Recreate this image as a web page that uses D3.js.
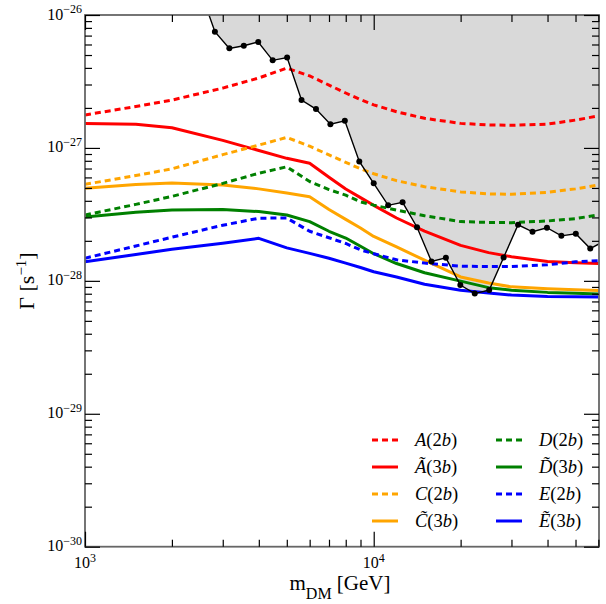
<!DOCTYPE html>
<html>
<head>
<meta charset="utf-8">
<script src="https://cdn.jsdelivr.net/npm/d3@7"></script>
<style>
body { margin: 0; background: #fff; }
text { font-family: "Liberation Serif", "DejaVu Serif", serif; fill: #000; }
</style>
</head>
<body>
<div id="chart"></div>
<script>
// dark matter mass grid (GeV) shared by the model curves
var masses = [1000, 1500, 2000, 3000, 4000, 5000, 6000, 7000, 8000, 9000, 10000,
	12000, 15000, 20000, 25000, 30000, 40000, 50000, 60000];

// decay rates Gamma [1/s]
var gammaA2b = [1.77e-27, 2.05e-27, 2.29e-27, 2.82e-27, 3.36e-27, 3.99e-27, 3.48e-27, 2.97e-27, 2.59e-27, 2.31e-27,
	2.11e-27, 1.87e-27, 1.67e-27, 1.53e-27, 1.49e-27, 1.48e-27, 1.51e-27, 1.62e-27, 1.74e-27];
var gammaA3b = [1.53e-27, 1.51e-27, 1.42e-27, 1.14e-27, 9.56e-28, 8.35e-28, 7.66e-28, 6.01e-28, 4.91e-28, 4.23e-28,
	3.70e-28, 2.97e-28, 2.37e-28, 1.85e-28, 1.63e-28, 1.52e-28, 1.40e-28, 1.37e-28, 1.35e-28];
var gammaC2b = [5.32e-28, 6.20e-28, 6.96e-28, 8.90e-28, 1.05e-27, 1.20e-27, 1.03e-27, 8.86e-28, 7.79e-28, 6.96e-28,
	6.39e-28, 5.67e-28, 5.11e-28, 4.67e-28, 4.51e-28, 4.48e-28, 4.63e-28, 4.92e-28, 5.26e-28];
var gammaC3b = [4.97e-28, 5.30e-28, 5.45e-28, 5.27e-28, 4.92e-28, 4.58e-28, 4.29e-28, 3.44e-28, 2.90e-28, 2.50e-28,
	2.16e-28, 1.80e-28, 1.43e-28, 1.07e-28, 9.62e-29, 9.01e-29, 8.71e-29, 8.56e-29, 8.45e-29];
var gammaD2b = [3.13e-28, 3.76e-28, 4.32e-28, 5.41e-28, 6.45e-28, 7.21e-28, 5.59e-28, 4.86e-28, 4.41e-28, 3.93e-28,
	3.71e-28, 3.41e-28, 3.09e-28, 2.79e-28, 2.75e-28, 2.74e-28, 2.82e-28, 2.94e-28, 3.13e-28];
var gammaD3b = [3.02e-28, 3.28e-28, 3.41e-28, 3.44e-28, 3.32e-28, 3.13e-28, 2.79e-28, 2.36e-28, 2.10e-28, 1.82e-28,
	1.60e-28, 1.35e-28, 1.15e-28, 9.95e-29, 8.89e-29, 8.50e-29, 8.19e-29, 8.05e-29, 7.96e-29];
var gammaE2b = [1.48e-28, 1.83e-28, 2.13e-28, 2.62e-28, 2.96e-28, 2.97e-28, 2.36e-28, 2.11e-28, 1.91e-28, 1.71e-28,
	1.60e-28, 1.44e-28, 1.36e-28, 1.29e-28, 1.28e-28, 1.28e-28, 1.32e-28, 1.39e-28, 1.42e-28];
var gammaE3b = [1.39e-28, 1.58e-28, 1.73e-28, 1.92e-28, 2.09e-28, 1.77e-28, 1.61e-28, 1.48e-28, 1.36e-28, 1.26e-28,
	1.17e-28, 1.07e-28, 9.43e-29, 8.51e-29, 8.10e-29, 7.82e-29, 7.62e-29, 7.58e-29, 7.55e-29];

// experimental limit (black dots), region above is excluded
var limitMass = [2512, 2818, 3162, 3548, 3981, 4467, 5012, 5623, 6310, 7079, 7943, 8913, 10000, 11220, 12589,
	14125, 15849, 17783, 19953, 22387, 25119, 28184, 31623, 35481, 39811, 44668, 50119, 56234, 63096];
var limitGamma = [1.52e-26, 7.48e-27, 5.61e-27, 5.87e-27, 6.27e-27, 4.56e-27, 4.78e-27, 2.29e-27, 1.96e-27, 1.51e-27,
	1.60e-27, 7.92e-28, 5.42e-28, 3.70e-28, 3.90e-28, 2.53e-28, 1.40e-28, 1.49e-28, 9.29e-29, 8.02e-29,
	8.53e-29, 1.50e-28, 2.64e-28, 2.34e-28, 2.51e-28, 2.18e-28, 2.26e-28, 1.75e-28, 2.00e-28];

// legend names and b multiplicity
var modelNames = ["A", "\u00C3", "C", "C\u0303", "D", "D\u0303", "E", "\u1EBC"];
var modelBs = ["2", "3", "2", "3", "2", "3", "2", "3"];

var xMajor = [1e3, 1e4],
	xMinor = [2e3, 3e3, 4e3, 5e3, 6e3, 7e3, 8e3, 9e3, 2e4, 3e4, 4e4, 5e4, 6e4],
	yMajor = [1e-30, 1e-29, 1e-28, 1e-27, 1e-26],
	yMinor = (function(){
		var t = [];
		for (var e = -30; e < -26; e++) {
			for (var k = 2; k < 10; k++) t.push(+(k + "e" + e));
		}
		return t;
	}());

var width = 606,
	height = 604,
	margin = {top: 15, right: 7, bottom: 57.3, left: 85},
	pLeft = margin.left,
	pRight = width - margin.right,
	pTop = margin.top,
	pBottom = height - margin.bottom;

var x = d3.scaleLog().domain([1e3, 6.03e4]).range([pLeft, pRight]);
var y = d3.scaleLog().domain([1e-30, 1e-26]).range([pBottom, pTop]);

var series = [
	{values: gammaA2b, color: "#ff0000", dotted: true},
	{values: gammaA3b, color: "#ff0000", dotted: false},
	{values: gammaC2b, color: "#ffa500", dotted: true},
	{values: gammaC3b, color: "#ffa500", dotted: false},
	{values: gammaD2b, color: "#008000", dotted: true},
	{values: gammaD3b, color: "#008000", dotted: false},
	{values: gammaE2b, color: "#0000ff", dotted: true},
	{values: gammaE3b, color: "#0000ff", dotted: false}
];

var svg = d3.select("#chart")
	.append("svg")
	.attr("width", width)
	.attr("height", height);

svg.append("clipPath")
	.attr("id", "plot")
	.append("rect")
	.attr("x", pLeft)
	.attr("y", pTop)
	.attr("width", pRight - pLeft)
	.attr("height", pBottom - pTop);

var plot = svg.append("g").attr("clip-path", "url(#plot)");

var limit = limitMass.map(function(m, i){ return {m: m, g: limitGamma[i]}; });

// excluded region
plot.append("path")
	.datum(limit)
	.attr("fill", "#d9d9d9")
	.attr("d", d3.area()
		.x(function(d){ return x(d.m); })
		.y0(pTop - 50)
		.y1(function(d){ return y(d.g); }));

// model curves
var line = d3.line()
	.x(function(d){ return x(d.m); })
	.y(function(d){ return y(d.g); });

series.forEach(function(s){
	plot.append("path")
		.datum(masses.map(function(m, i){ return {m: m, g: s.values[i]}; }))
		.attr("fill", "none")
		.attr("stroke", s.color)
		.attr("stroke-width", 3)
		.attr("stroke-linejoin", "round")
		.attr("stroke-dasharray", s.dotted ? "6,4" : null)
		.attr("d", line);
});

// limit line and dots
plot.append("path")
	.datum(limit)
	.attr("fill", "none")
	.attr("stroke", "#000")
	.attr("stroke-width", 1.4)
	.attr("d", line);

plot.selectAll("circle")
	.data(limit)
	.enter()
	.append("circle")
	.attr("cx", function(d){ return x(d.m); })
	.attr("cy", function(d){ return y(d.g); })
	.attr("r", 3)
	.attr("fill", "#000");

// frame
svg.append("rect")
	.attr("x", pLeft)
	.attr("y", pTop)
	.attr("width", pRight - pLeft)
	.attr("height", pBottom - pTop)
	.attr("fill", "none")
	.attr("stroke", "#666")
	.attr("stroke-width", 1.8);

// ticks on all four sides, pointing inward
function ticks(axis, values, len, tx, ty){
	svg.append("g")
		.attr("transform", "translate(" + tx + "," + ty + ")")
		.attr("color", "#000")
		.call(axis.tickValues(values).tickSize(-len).tickFormat(""))
		.call(function(g){
			g.select(".domain").remove();
			g.selectAll("line").attr("stroke-width", 1.2);
		});
}
ticks(d3.axisLeft(y), yMajor, 15, pLeft, 0);
ticks(d3.axisLeft(y), yMinor, 7, pLeft, 0);
ticks(d3.axisRight(y), yMajor, 15, pRight, 0);
ticks(d3.axisRight(y), yMinor, 7, pRight, 0);
ticks(d3.axisBottom(x), xMajor, 15, 0, pBottom);
ticks(d3.axisBottom(x), xMinor, 7, 0, pBottom);
ticks(d3.axisTop(x), xMajor, 15, 0, pTop);
ticks(d3.axisTop(x), xMinor, 7, 0, pTop);

// tick labels 10^n
function power(t, exp){
	t.append("tspan").attr("font-size", 16).text("10");
	t.append("tspan").attr("font-size", 12).attr("dy", -6.5).text(exp);
}
yMajor.forEach(function(v){
	var e = Math.round(Math.log10(v));
	var t = svg.append("text")
		.attr("x", pLeft - 3)
		.attr("y", y(v) + 4.5)
		.attr("text-anchor", "end");
	power(t, "\u2212" + (-e));
});
xMajor.forEach(function(v){
	var e = Math.round(Math.log10(v));
	var t = svg.append("text")
		.attr("x", x(v))
		.attr("y", 568)
		.attr("text-anchor", "middle");
	power(t, String(e));
});

// axis titles
var yt = svg.append("text")
	.attr("transform", "translate(34," + 281 + ") rotate(-90)")
	.attr("text-anchor", "middle")
	.attr("font-size", 22);
yt.append("tspan").text("\u0393 [s");
yt.append("tspan").attr("font-size", 15).attr("dy", -8).text("\u22121");
yt.append("tspan").attr("dy", 8).text("]");

var xt = svg.append("text")
	.attr("x", 340)
	.attr("y", 590)
	.attr("text-anchor", "middle")
	.attr("font-size", 21);
xt.append("tspan").text("m");
xt.append("tspan").attr("font-size", 16).attr("dy", 9).text("DM");
xt.append("tspan").attr("dy", -9).text(" [GeV]");

// legend, two columns of four
series.forEach(function(s, i){
	var col = Math.floor(i / 4),
		row = i % 4,
		lx = 372 + col * 124,
		ly = 440 + row * 27;
	svg.append("line")
		.attr("x1", lx)
		.attr("x2", lx + 26)
		.attr("y1", ly)
		.attr("y2", ly)
		.attr("stroke", s.color)
		.attr("stroke-width", 3)
		.attr("stroke-dasharray", s.dotted ? "6,4" : null);
	var t = svg.append("text")
		.attr("x", lx + 43)
		.attr("y", ly + 6)
		.attr("font-size", 18.5);
	t.append("tspan").attr("font-style", "italic").text(modelNames[i]);
	t.append("tspan").text("(" + modelBs[i]);
	t.append("tspan").attr("font-style", "italic").text("b");
	t.append("tspan").text(")");
});
</script>
</body>
</html>
